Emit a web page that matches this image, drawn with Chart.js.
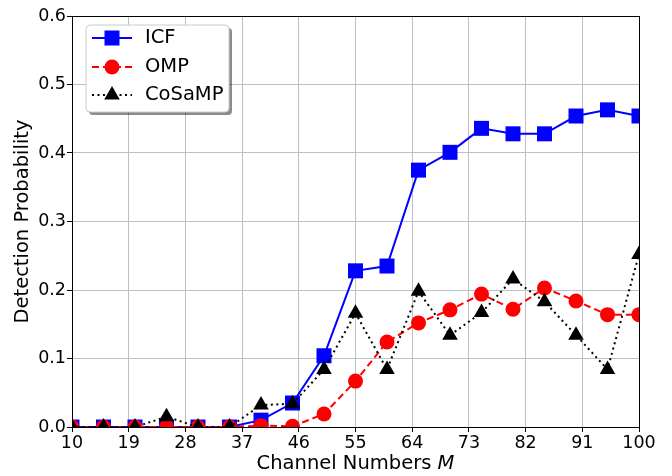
<!DOCTYPE html>
<html>
<head>
<meta charset="utf-8">
<script src="https://cdn.jsdelivr.net/npm/chart.js@4.4.1/dist/chart.umd.min.js"></script>
<style>
html,body{margin:0;padding:0;background:#fff;}
#wrap{width:672px;height:476px;position:relative;}
</style>
</head>
<body>
<div id="wrap"><canvas id="c" width="672" height="476"></canvas></div>
<script>
const channelNumbers = [10,15,20,25,30,35,40,45,50,55,60,65,70,75,80,85,90,95,100];
const icfValues    = [0,0,0,0,0,0,0.010,0.035,0.104,0.228,0.235,0.375,0.401,0.436,0.428,0.428,0.454,0.463,0.454];
const ompValues    = [0,0,0,0,0,0,0.002,0.001,0.019,0.067,0.124,0.152,0.171,0.194,0.172,0.203,0.184,0.164,0.164];
const cosampValues = [0,0,0,0.015,0,0,0.032,0.034,0.084,0.166,0.084,0.198,0.134,0.167,0.216,0.183,0.134,0.084,0.252];
const xTickValues = [10,19,28,37,46,55,64,73,82,91,100];
const yTickValues = [0,0.1,0.2,0.3,0.4,0.5,0.6];
const seriesNames = ['ICF','OMP','CoSaMP'];
const xTitle = 'Channel Numbers ';
const xTitleVar = 'M';
const yTitle = 'Detection Probability';

const FONT = "'DejaVu Sans', sans-serif";
const TICK_SIZE = 17.5;
const LABEL_SIZE = 19.5;

function pts(vals){ return channelNumbers.map((x,i)=>({x:x,y:vals[i]})); }

const styles = [
  {color:'#0000ff', dash:[], style:'rect', radius:10.6, width:2},
  {color:'#ff0000', dash:[7,4], style:'circle', radius:7.5, width:2},
  {color:'#000000', dash:[2,3.5], style:'triangle', radius:9, width:2}
];
const seriesData = [icfValues, ompValues, cosampValues];

const datasets = seriesData.map((vals,i)=>({
  label: seriesNames[i],
  data: pts(vals),
  borderColor: styles[i].color,
  backgroundColor: styles[i].color,
  borderWidth: styles[i].width,
  borderDash: styles[i].dash,
  pointStyle: styles[i].style,
  pointRadius: styles[i].radius,
  pointHoverRadius: styles[i].radius,
  pointBorderWidth: 0,
  pointBackgroundColor: styles[i].color,
  fill: false,
  tension: 0,
  clip: 0,
  order: 3 - i
}));

const framePlugin = {
  id: 'frame',
  afterDatasetsDraw(chart){
    const ctx = chart.ctx, a = chart.chartArea;
    ctx.save();
    ctx.strokeStyle = '#000';
    ctx.lineWidth = 1;
    ctx.strokeRect(Math.round(a.left)+0.5, Math.round(a.top)+0.5, Math.round(a.right-a.left), Math.round(a.bottom-a.top));
    ctx.restore();
  },
  afterDraw(chart){
    const ctx = chart.ctx, a = chart.chartArea;
    ctx.save();
    ctx.fillStyle = '#000';
    ctx.textBaseline = 'middle';
    ctx.font = LABEL_SIZE + "px " + FONT;
    const w1 = ctx.measureText(xTitle).width;
    ctx.font = "italic " + LABEL_SIZE + "px " + FONT;
    const w2 = ctx.measureText(xTitleVar).width;
    const cx = (a.left + a.right)/2;
    let sx = cx - (w1+w2)/2;
    ctx.textAlign = 'left';
    ctx.font = LABEL_SIZE + "px " + FONT;
    ctx.fillText(xTitle, sx, 464);
    ctx.font = "italic " + LABEL_SIZE + "px " + FONT;
    ctx.fillText(xTitleVar, sx + w1, 464);
    ctx.save();
    ctx.translate(23, (a.top+a.bottom)/2);
    ctx.rotate(-Math.PI/2);
    ctx.textAlign = 'center';
    ctx.font = LABEL_SIZE + "px " + FONT;
    ctx.fillText(yTitle, 0, 0);
    ctx.restore();

    // legend
    const lx = 86, ly = 25, lw = 143, lh = 87, r = 4;
    function rr(x,y,w,h){
      ctx.beginPath();
      ctx.moveTo(x+r,y);
      ctx.lineTo(x+w-r,y); ctx.quadraticCurveTo(x+w,y,x+w,y+r);
      ctx.lineTo(x+w,y+h-r); ctx.quadraticCurveTo(x+w,y+h,x+w-r,y+h);
      ctx.lineTo(x+r,y+h); ctx.quadraticCurveTo(x,y+h,x,y+h-r);
      ctx.lineTo(x,y+r); ctx.quadraticCurveTo(x,y,x+r,y);
      ctx.closePath();
    }
    rr(lx+3, ly+3, lw, lh);
    ctx.fillStyle = 'rgba(0,0,0,0.45)';
    ctx.fill();
    rr(lx, ly, lw, lh);
    ctx.fillStyle = '#fff';
    ctx.fill();
    ctx.strokeStyle = '#cccccc';
    ctx.lineWidth = 1;
    ctx.stroke();
    const rows = [38, 67, 95];
    for (let i=0;i<3;i++){
      const y = rows[i], s = styles[i];
      ctx.save();
      ctx.strokeStyle = s.color;
      ctx.lineWidth = s.width;
      ctx.setLineDash(s.dash);
      ctx.beginPath();
      ctx.moveTo(92, y); ctx.lineTo(132, y);
      ctx.stroke();
      ctx.restore();
      ctx.fillStyle = s.color;
      ctx.beginPath();
      if (s.style === 'rect'){ const h = s.radius*Math.SQRT1_2; ctx.rect(112-h, y-h, 2*h, 2*h); }
      else if (s.style === 'circle'){ ctx.arc(112, y, s.radius, 0, Math.PI*2); }
      else { const R = s.radius; ctx.moveTo(112, y-R); ctx.lineTo(112+R*0.866, y+R*0.5); ctx.lineTo(112-R*0.866, y+R*0.5); ctx.closePath(); }
      ctx.fill();
      ctx.fillStyle = '#000';
      ctx.font = LABEL_SIZE + "px " + FONT;
      ctx.textAlign = 'left';
      ctx.textBaseline = 'middle';
      ctx.fillText(seriesNames[i], 145, y);
    }
    ctx.restore();
  }
};

new Chart(document.getElementById('c'), {
  type: 'line',
  data: { datasets },
  options: {
    responsive: false,
    animation: false,
    events: [],
    layout: { padding: { left: 0, right: 33, top: 16, bottom: 0 } },
    plugins: { legend: { display: false }, tooltip: { enabled: false } },
    scales: {
      x: {
        type: 'linear',
        min: 10, max: 100,
        afterBuildTicks: s => { s.ticks = xTickValues.map(v=>({value:v})); },
        afterFit: s => { s.height = 49; },
        ticks: { color:'#000', font:{family:FONT, size:TICK_SIZE}, padding:1, maxRotation:0, autoSkip:false, callback: v => String(v) },
        grid: { color:'#c0c0c0', lineWidth:1, tickColor:'#000', tickLength:5, drawTicks:true },
        border: { display:true, color:'#000', width:1 }
      },
      y: {
        type: 'linear',
        min: 0, max: 0.6,
        afterBuildTicks: s => { s.ticks = yTickValues.map(v=>({value:v})); },
        afterFit: s => { s.width = 72; },
        ticks: { color:'#000', font:{family:FONT, size:TICK_SIZE}, padding:1, callback: v => Number(v).toFixed(1) },
        grid: { color:'#c0c0c0', lineWidth:1, tickColor:'#000', tickLength:5, drawTicks:true },
        border: { display:true, color:'#000', width:1 }
      }
    }
  },
  plugins: [framePlugin]
});
</script>
</body>
</html>
